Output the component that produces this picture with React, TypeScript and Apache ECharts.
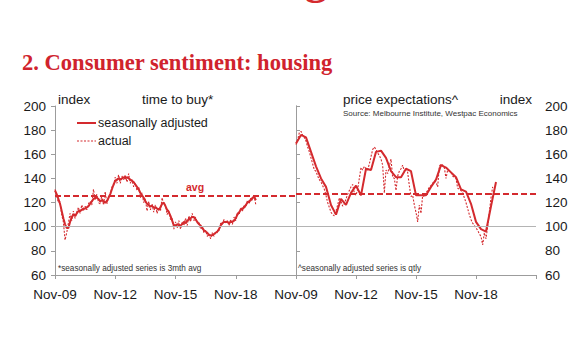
import { useEffect, useRef } from "react";
import * as echarts from "echarts";

// ---- data ----
const xTickLabels: Record<number, string> = { 0: "Nov-09", 36: "Nov-12", 72: "Nov-15", 108: "Nov-18" };
const yMin = 60;
const yMax = 200;
const yInterval = 20;

// time to buy: monthly, Nov-09 onwards
const timeToBuySA = [
  130, 127, 123, 119, 113, 107, 102, 99, 99, 104, 108, 110,
  109, 111, 113, 113, 114, 115, 115, 116, 117, 119, 121, 123,
  124, 124, 123, 121, 122, 121, 120, 121, 124, 127, 131, 135,
  138, 139, 140, 139, 140, 141, 140, 141, 140, 139, 138, 137,
  135, 133, 131, 128, 126, 124, 121, 119, 118, 117, 117, 116,
  116, 115, 114, 116, 119, 120, 117, 114, 112, 109, 105, 101,
  101, 102, 101, 101, 102, 104, 103, 105, 106, 107, 108, 108,
  106, 104, 102, 101, 99, 97, 96, 95, 93, 93, 93, 94,
  95, 96, 98, 101, 103, 104, 104, 104, 103, 104, 104, 105,
  107, 110, 112, 114, 115, 116, 118, 120, 121, 122, 124, 125,
  122,
];
const timeToBuyActual = [
  131, 126, 120, 121, 110, 104, 89, 95, 103, 111, 105, 113,
  107, 112, 116, 111, 118, 113, 117, 114, 119, 121, 118, 131,
  122, 127, 120, 119, 126, 118, 129, 119, 125, 126, 133, 134,
  141, 136, 143, 136, 142, 139, 143, 137, 144, 136, 139, 133,
  136, 130, 133, 124, 128, 120, 123, 113, 121, 114, 119, 112,
  118, 111, 116, 113, 124, 118, 118, 110, 114, 106, 107, 98,
  104, 99, 105, 98, 104, 101, 107, 101, 109, 104, 111, 105,
  108, 103, 104, 98, 100, 95, 97, 92, 94, 90, 95, 92,
  96, 95, 97, 103, 102, 106, 103, 105, 101, 106, 102, 108,
  105, 112, 110, 116, 113, 118, 116, 122, 119, 124, 122, 126,
  118,
];
const timeToBuyAvg = 126;

// price expectations: quarterly SA, monthly actual
const priceExpQuarterMonths = [
  0, 3, 6, 9, 12, 15, 18, 21, 24, 27, 30, 33, 36, 39, 42, 45, 48, 51, 54, 57,
  60, 63, 66, 69, 72, 75, 78, 81, 84, 87, 90, 93, 96, 99, 102, 105, 108, 111, 114, 117, 120,
];
const priceExpSA = [
  169, 176, 174, 162, 150, 140, 133, 118, 110, 123, 118, 128, 134, 126, 148, 147, 162, 163, 157, 146,
  141, 141, 148, 146, 126, 126, 126, 133, 139, 151, 149, 145, 141, 131, 129, 119, 104, 98, 96, 117, 137,
];
const priceExpActual = [
  168, 172, 178, 179, 176, 174, 171, 166, 162, 157, 152, 147,
  146, 142, 139, 137, 134, 131, 126, 120, 116, 112, 110, 109,
  113, 118, 124, 121, 117, 119, 123, 127, 130, 133, 135, 128,
  126, 131, 140, 149, 147, 150, 148, 147, 152, 158, 164, 166,
  164, 161, 159, 156, 151, 128, 147, 144, 150, 156, 141, 140,
  130, 142, 146, 148, 151, 146, 148, 145, 134, 125, 126, 118,
  112, 104, 118, 111, 126, 125, 128, 130, 133, 134, 136, 138,
  137, 133, 150, 152, 151, 149, 140, 147, 146, 145, 142, 141,
  140, 132, 131, 130, 128, 124, 120, 115, 110, 106, 103, 101,
  99, 97, 94, 92, 85, 95, 90, 100, 112, 124, 133,
];
const priceExpAvg = 127;

const RED = "#d42a2e";
const GREY = "#9c9c9c";
const FONT = "Liberation Sans, Arial, sans-serif";

export default function App() {
  const ref = useRef<HTMLDivElement>(null);
  useEffect(() => {
    if (!ref.current) return;
    const chart = echarts.init(ref.current, null, { renderer: "svg" });

    const xAxisBase = (gridIndex: number) => ({
      type: "value",
      gridIndex,
      min: 0,
      max: 144,
      interval: 36,
      axisLine: { show: true, lineStyle: { color: GREY, width: 1 } },
      axisTick: { show: true, inside: false, length: 4, lineStyle: { color: GREY } },
      axisLabel: {
        formatter: (v: number) => xTickLabels[v] ?? "",
        color: "#1a1a1a",
        fontSize: 13.5,
        fontFamily: FONT,
        margin: 12,
      },
      splitLine: { show: false },
    });
    const yAxisBase = (gridIndex: number, position: string) => ({
      type: "value",
      gridIndex,
      position,
      min: yMin,
      max: yMax,
      interval: yInterval,
      axisLine: { show: true, lineStyle: { color: GREY, width: 1 } },
      axisTick: { show: true, inside: false, length: 4, lineStyle: { color: GREY } },
      axisLabel: { color: "#1a1a1a", fontSize: 13.5, fontFamily: FONT, margin: 9 },
      splitLine: { show: false },
    });

    const refLines = (avg: number) => ({
      silent: true,
      symbol: "none",
      label: { show: false },
      animation: false,
      data: [
        { yAxis: 100, lineStyle: { color: "#b4b4b4", width: 1, type: "solid" } },
        { yAxis: avg, lineStyle: { color: RED, width: 2, type: [6, 3] } },
      ],
    });

    const option: any = {
      animation: false,
      grid: [
        { left: 55, top: 106, width: 241, height: 169 },
        { left: 296, top: 106, width: 240, height: 169 },
      ],
      xAxis: [xAxisBase(0), xAxisBase(1)],
      yAxis: [
        yAxisBase(0, "left"),
        yAxisBase(1, "right"),
        {
          type: "value",
          gridIndex: 1,
          position: "left",
          min: yMin,
          max: yMax,
          axisLine: { show: true, lineStyle: { color: GREY, width: 1 } },
          axisTick: { show: false },
          axisLabel: { show: false },
          splitLine: { show: false },
        },
      ],
      series: [
        {
          name: "actual",
          type: "line",
          xAxisIndex: 0,
          yAxisIndex: 0,
          showSymbol: false,
          data: timeToBuyActual.map((v, i) => [i, v]),
          lineStyle: { color: RED, width: 1.1, type: [2, 1.5] },
          markLine: refLines(timeToBuyAvg),
          z: 2,
        },
        {
          name: "seasonally adjusted",
          type: "line",
          xAxisIndex: 0,
          yAxisIndex: 0,
          showSymbol: false,
          data: timeToBuySA.map((v, i) => [i, v]),
          lineStyle: { color: RED, width: 2 },
          z: 3,
        },
        {
          name: "actual ",
          type: "line",
          xAxisIndex: 1,
          yAxisIndex: 1,
          showSymbol: false,
          data: priceExpActual.map((v, i) => [i, v]),
          lineStyle: { color: RED, width: 1.1, type: [2, 1.5] },
          markLine: refLines(priceExpAvg),
          z: 2,
        },
        {
          name: "seasonally adjusted ",
          type: "line",
          xAxisIndex: 1,
          yAxisIndex: 1,
          showSymbol: false,
          data: priceExpSA.map((v, i) => [priceExpQuarterMonths[i], v]),
          lineStyle: { color: RED, width: 2 },
          z: 3,
        },
      ],
      graphic: [
        {
          type: "text",
          x: 305,
          y: -43,
          style: { text: "g", fill: RED, fontSize: 44, fontWeight: "bold", fontFamily: "Liberation Serif, serif", verticalAlign: "top" },
        },
        {
          type: "text",
          x: 22,
          y: 62,
          scaleX: 0.94,
          style: {
            text: "2. Consumer sentiment: housing",
            fill: "#d0232d",
            fontSize: 24,
            fontWeight: "bold",
            fontFamily: "Liberation Serif, Times New Roman, serif",
            verticalAlign: "middle",
            align: "left",
          },
        },
        { type: "text", x: 58, y: 99, style: { text: "index", fill: "#1a1a1a", fontSize: 13.5, fontFamily: FONT, verticalAlign: "middle" } },
        { type: "text", x: 142, y: 99, style: { text: "time to buy*", fill: "#1a1a1a", fontSize: 13.5, fontFamily: FONT, verticalAlign: "middle" } },
        { type: "text", x: 343, y: 99, style: { text: "price expectations^", fill: "#1a1a1a", fontSize: 13.5, fontFamily: FONT, verticalAlign: "middle" } },
        { type: "text", x: 532, y: 99, style: { text: "index", fill: "#1a1a1a", fontSize: 13.5, fontFamily: FONT, verticalAlign: "middle", align: "right" } },
        { type: "text", x: 343, y: 113, style: { text: "Source: Melbourne Institute, Westpac Economics", fill: "#333", fontSize: 8, fontFamily: FONT, verticalAlign: "middle" } },
        { type: "line", shape: { x1: 77, y1: 123, x2: 96, y2: 123 }, style: { stroke: RED, lineWidth: 2 } },
        { type: "text", x: 98, y: 123, style: { text: "seasonally adjusted", fill: "#1a1a1a", fontSize: 12.5, fontFamily: FONT, verticalAlign: "middle" } },
        { type: "line", shape: { x1: 77, y1: 141, x2: 96, y2: 141 }, style: { stroke: RED, lineWidth: 1.1, lineDash: [2, 1.5] } },
        { type: "text", x: 98, y: 141, style: { text: "actual", fill: "#1a1a1a", fontSize: 12.5, fontFamily: FONT, verticalAlign: "middle" } },
        { type: "text", x: 195, y: 187, style: { text: "avg", fill: RED, fontSize: 10.5, fontWeight: "bold", fontFamily: FONT, verticalAlign: "middle", align: "center" } },
        { type: "text", x: 58, y: 268, style: { text: "*seasonally adjusted series is 3mth avg", fill: "#333", fontSize: 8.2, fontFamily: FONT, verticalAlign: "middle" } },
        { type: "text", x: 298, y: 268, style: { text: "^seasonally adjusted series is qtly", fill: "#333", fontSize: 8.2, fontFamily: FONT, verticalAlign: "middle" } },
      ],
    };
    chart.setOption(option);
    return () => chart.dispose();
  }, []);
  return <div ref={ref} style={{ position: "fixed", left: 0, top: 0, width: 580, height: 352, background: "#fff" }} />;
}
